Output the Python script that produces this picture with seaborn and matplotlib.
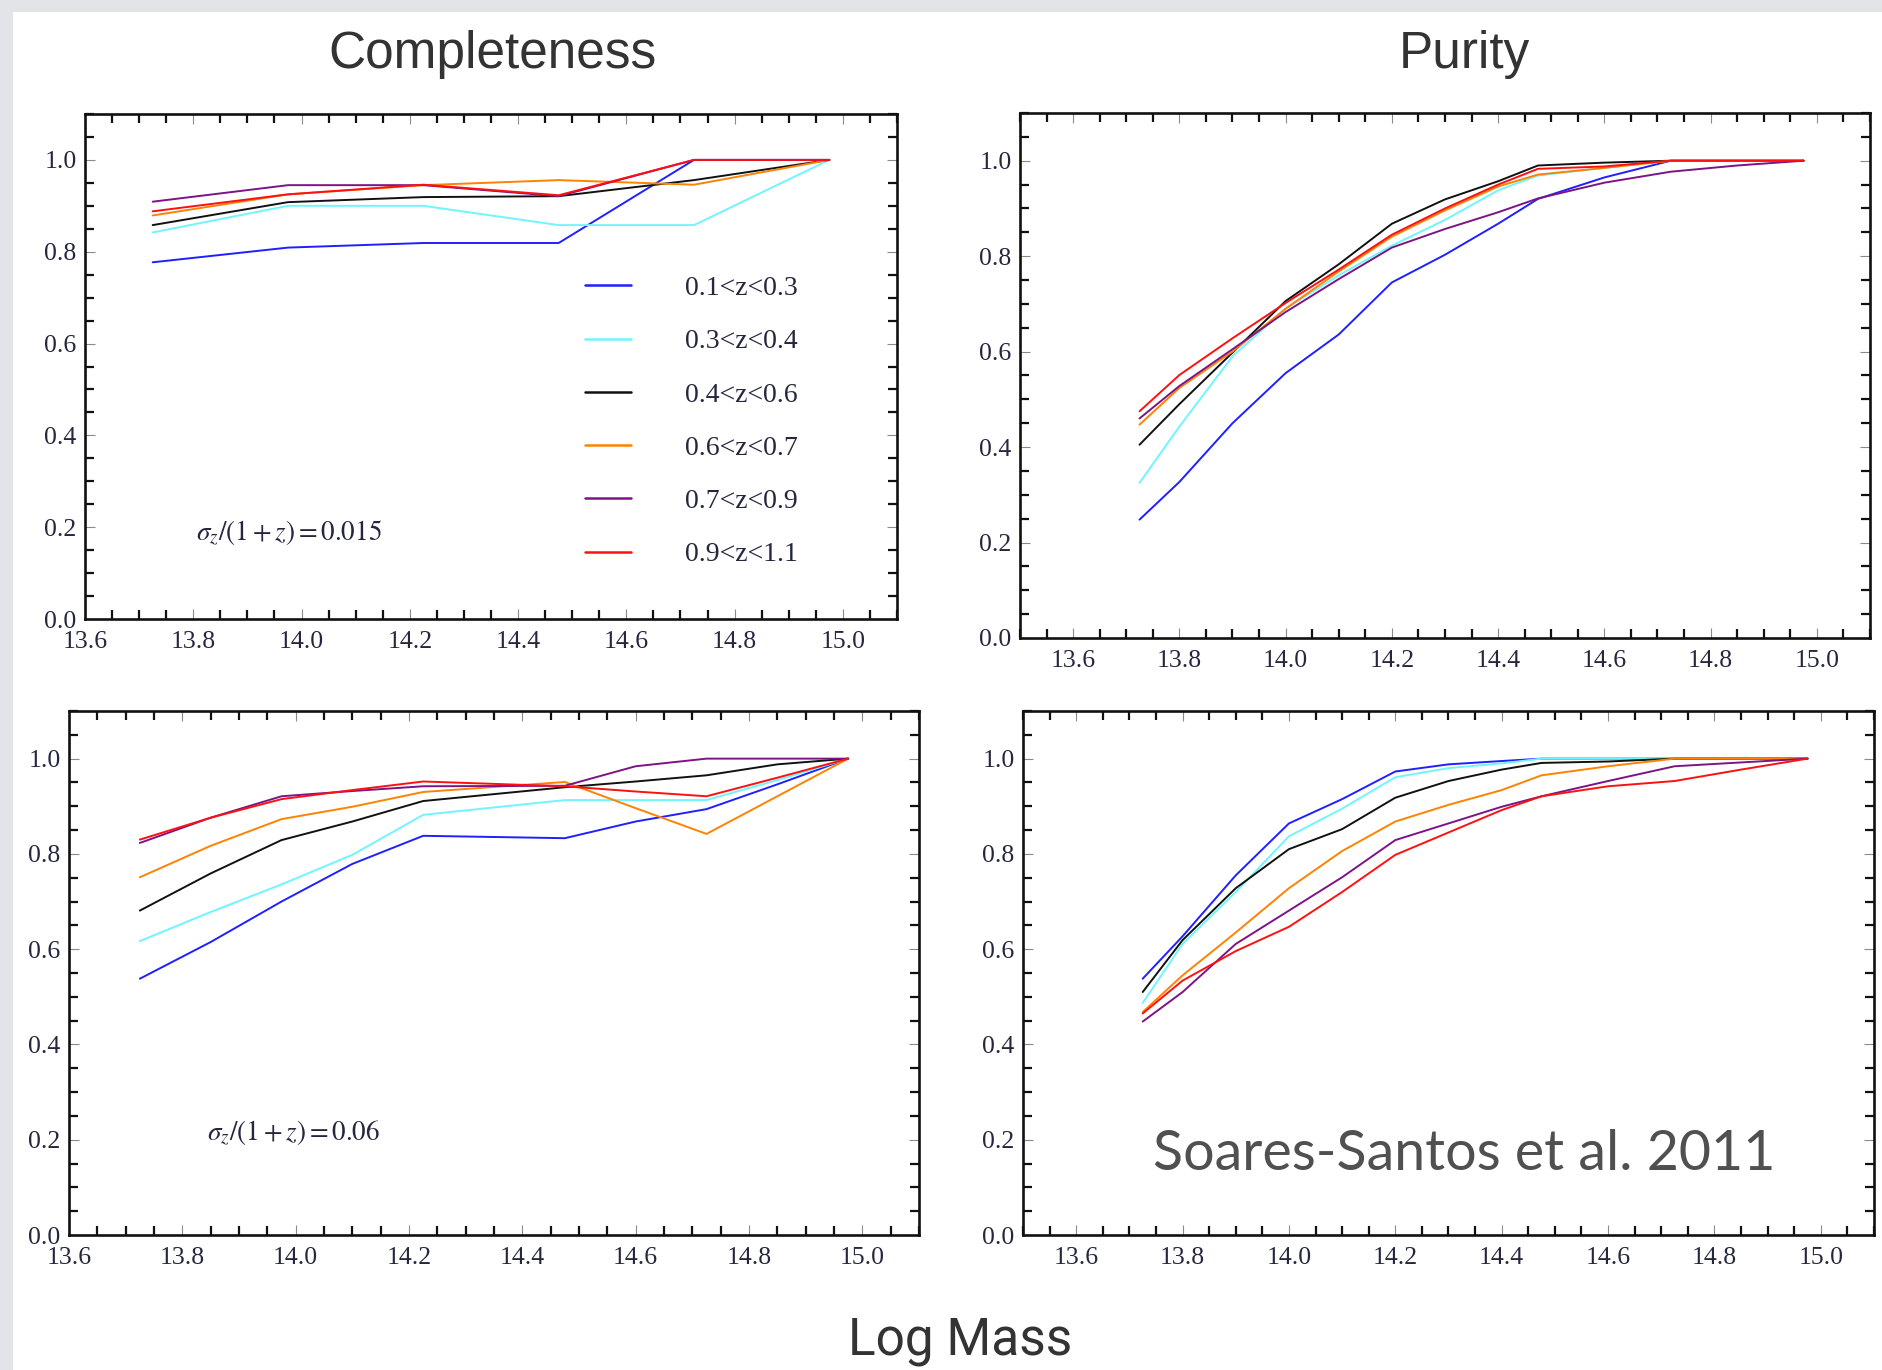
import numpy as np
import pandas as pd
import matplotlib
matplotlib.use("Agg")
import matplotlib.pyplot as plt
import seaborn as sns
from matplotlib.ticker import MultipleLocator, FormatStrFormatter
from matplotlib.patches import Rectangle

sns.set_theme(style="white")
plt.rcParams["font.family"] = ["Liberation Serif", "DejaVu Serif"]
plt.rcParams["mathtext.fontset"] = "stix"

# redshift bins and their colours
z_labels = ["0.1<z<0.3", "0.3<z<0.4", "0.4<z<0.6", "0.6<z<0.7", "0.7<z<0.9", "0.9<z<1.1"]
z_colors = ["#1f1fff", "#6ff5ff", "#111111", "#ff8200", "#7d1485", "#ff1010"]

# completeness, sigma_z/(1+z) = 0.015
comp_x_015 = [13.725, 13.975, 14.225, 14.475, 14.725, 14.975]
comp_015 = {
    "0.1<z<0.3": [0.777, 0.809, 0.819, 0.819, 1.000, 1.000],
    "0.3<z<0.4": [0.842, 0.900, 0.900, 0.858, 0.858, 1.000],
    "0.4<z<0.6": [0.858, 0.908, 0.919, 0.921, 0.956, 1.000],
    "0.6<z<0.7": [0.879, 0.925, 0.945, 0.956, 0.946, 1.000],
    "0.7<z<0.9": [0.909, 0.945, 0.945, 0.921, 1.000, 1.000],
    "0.9<z<1.1": [0.888, 0.925, 0.946, 0.923, 1.000, 1.000],
}

# purity, sigma_z/(1+z) = 0.015
pur_x = [13.725, 13.8, 13.9, 14.0, 14.1, 14.2, 14.3, 14.4, 14.475, 14.6, 14.725, 14.85, 14.975]
pur_015 = {
    "0.1<z<0.3": [0.248, 0.327, 0.450, 0.555, 0.636, 0.745, 0.803, 0.868, 0.920, 0.965, 1.000, 1.000, 1.000],
    "0.3<z<0.4": [0.325, 0.443, 0.590, 0.690, 0.760, 0.822, 0.876, 0.938, 0.969, 0.985, 1.000, 1.000, 1.000],
    "0.4<z<0.6": [0.405, 0.490, 0.598, 0.706, 0.783, 0.868, 0.919, 0.957, 0.990, 0.996, 1.000, 1.000, 1.000],
    "0.6<z<0.7": [0.447, 0.524, 0.600, 0.690, 0.768, 0.841, 0.896, 0.946, 0.971, 0.985, 1.000, 1.000, 1.000],
    "0.7<z<0.9": [0.460, 0.528, 0.605, 0.683, 0.752, 0.818, 0.857, 0.892, 0.921, 0.954, 0.977, 0.990, 1.000],
    "0.9<z<1.1": [0.475, 0.551, 0.628, 0.702, 0.772, 0.845, 0.900, 0.950, 0.983, 0.988, 1.000, 1.000, 1.000],
}

# completeness, sigma_z/(1+z) = 0.06
comp_x_06 = [13.725, 13.85, 13.975, 14.1, 14.225, 14.475, 14.6, 14.725, 14.85, 14.975]
comp_06 = {
    "0.1<z<0.3": [0.538, 0.615, 0.700, 0.779, 0.838, 0.833, 0.868, 0.894, 0.946, 1.000],
    "0.3<z<0.4": [0.617, 0.678, 0.736, 0.798, 0.882, 0.913, 0.913, 0.913, 0.955, 1.000],
    "0.4<z<0.6": [0.681, 0.759, 0.829, 0.868, 0.911, 0.940, 0.952, 0.965, 0.988, 1.000],
    "0.6<z<0.7": [0.751, 0.817, 0.873, 0.899, 0.930, 0.951, 0.896, 0.842, 0.921, 1.000],
    "0.7<z<0.9": [0.823, 0.876, 0.921, 0.932, 0.942, 0.943, 0.984, 1.000, 1.000, 1.000],
    "0.9<z<1.1": [0.830, 0.876, 0.915, 0.934, 0.952, 0.942, 0.931, 0.921, 0.960, 1.000],
}

# purity, sigma_z/(1+z) = 0.06
pur_06 = {
    "0.1<z<0.3": [0.538, 0.627, 0.755, 0.864, 0.915, 0.973, 0.988, 0.995, 1.000, 1.000, 1.000, 1.000, 1.000],
    "0.3<z<0.4": [0.487, 0.611, 0.720, 0.837, 0.895, 0.961, 0.980, 0.990, 1.000, 1.000, 1.000, 1.000, 1.000],
    "0.4<z<0.6": [0.510, 0.619, 0.728, 0.810, 0.852, 0.918, 0.953, 0.977, 0.991, 0.994, 1.000, 1.000, 1.000],
    "0.6<z<0.7": [0.468, 0.545, 0.635, 0.728, 0.806, 0.868, 0.903, 0.934, 0.965, 0.984, 1.000, 1.000, 1.000],
    "0.7<z<0.9": [0.448, 0.510, 0.611, 0.681, 0.751, 0.829, 0.864, 0.899, 0.921, 0.953, 0.984, 0.992, 1.000],
    "0.9<z<1.1": [0.465, 0.534, 0.596, 0.647, 0.720, 0.798, 0.845, 0.892, 0.921, 0.942, 0.953, 0.977, 1.000],
}

LABEL_COLOR = "#26263f"
palette = dict(zip(z_labels, z_colors))


def long_frame(x, series):
    return pd.DataFrame({
        "logm": np.tile(x, len(z_labels)),
        "value": np.concatenate([series[k] for k in z_labels]),
        "bin": np.repeat(z_labels, len(x)),
    })


def draw_panel(ax, x, series, xlim, legend=False):
    sns.lineplot(data=long_frame(x, series), x="logm", y="value", hue="bin",
                 hue_order=z_labels, palette=palette, estimator=None, sort=False,
                 linewidth=1.4, ax=ax, legend=legend)
    ax.set_xlim(*xlim)
    ax.set_ylim(0, 1.1)
    ax.set_xlabel("")
    ax.set_ylabel("")
    ax.grid(False)
    ax.xaxis.set_major_locator(MultipleLocator(0.2))
    ax.xaxis.set_minor_locator(MultipleLocator(0.05))
    ax.yaxis.set_major_locator(MultipleLocator(0.2))
    ax.yaxis.set_minor_locator(MultipleLocator(0.05))
    ax.xaxis.set_major_formatter(FormatStrFormatter("%.1f"))
    ax.yaxis.set_major_formatter(FormatStrFormatter("%.1f"))
    ax.tick_params(which="both", direction="in", top=True, right=True,
                   bottom=True, left=True)
    ax.tick_params(which="major", length=7, width=0.8, color="#8a8a8a",
                   labelsize=18.5, labelcolor=LABEL_COLOR)
    ax.tick_params(axis="x", which="major", pad=9)
    ax.tick_params(axis="y", which="major", pad=6)
    ax.tick_params(which="minor", length=6.5, width=1.6, color="#111111")
    for sp in ax.spines.values():
        sp.set_linewidth(1.9)
        sp.set_color("#111111")
        sp.set_visible(True)


W, H = 1883, 1370
fig = plt.figure(figsize=(W / 100, H / 100), dpi=100)
fig.patch.set_facecolor("#e2e4e8")
fig.add_artist(Rectangle((13 / W, 0), 1, 1 - 12 / H, transform=fig.transFigure,
                         facecolor="white", edgecolor="none", zorder=-10))


def px_axes(left, top, right, bottom):
    return fig.add_axes([left / W, 1 - bottom / H, (right - left) / W, (bottom - top) / H])


ax_tl = px_axes(85, 114, 897, 619)
ax_tr = px_axes(1020, 113, 1870, 638)
ax_bl = px_axes(69, 711, 919, 1235)
ax_br = px_axes(1023, 711, 1874, 1235)

draw_panel(ax_tl, comp_x_015, comp_015, (13.6, 15.1), legend=True)
draw_panel(ax_tr, pur_x, pur_015, (13.5, 15.1))
draw_panel(ax_bl, comp_x_06, comp_06, (13.6, 15.1))
draw_panel(ax_br, pur_x, pur_06, (13.5, 15.1))

handles, labels = ax_tl.get_legend_handles_labels()
for h in handles:
    h.set_linewidth(1.8)
ax_tl.legend(handles, labels, loc="center left", bbox_to_anchor=(0.6155, 0.391),
             frameon=False, fontsize=20, handlelength=1.65, handletextpad=1.95,
             labelspacing=1.0, borderpad=0, borderaxespad=0, labelcolor=LABEL_COLOR)

ax_tl.text(13.805, 0.189, r"$\sigma_z/(1+z) = 0.015$", fontsize=19.5,
           color=LABEL_COLOR, ha="left", va="center")
ax_bl.text(13.843, 0.2155, r"$\sigma_z/(1+z) = 0.06$", fontsize=19.5,
           color=LABEL_COLOR, ha="left", va="center")

ax_br.text(14.329, 0.168, "Soares-Santos et al. 2011", fontsize=40,
           family=["Lato", "DejaVu Sans"], fontweight="normal", color="#505050",
           ha="center", va="center")

fig.text(493 / W, 1 - 68 / H, "Completeness", ha="center", va="baseline",
         fontsize=37, family=["Liberation Sans", "DejaVu Sans"], color="#333333")
fig.text(1464 / W, 1 - 68 / H, "Purity", ha="center", va="baseline",
         fontsize=37, family=["Liberation Sans", "DejaVu Sans"], color="#333333")
fig.text(960 / W, 1 - 1354 / H, "Log Mass", ha="center", va="baseline",
         fontsize=37, family=["Roboto", "DejaVu Sans"], color="#333333")

fig.savefig("out.png", dpi=100, facecolor=fig.get_facecolor())
